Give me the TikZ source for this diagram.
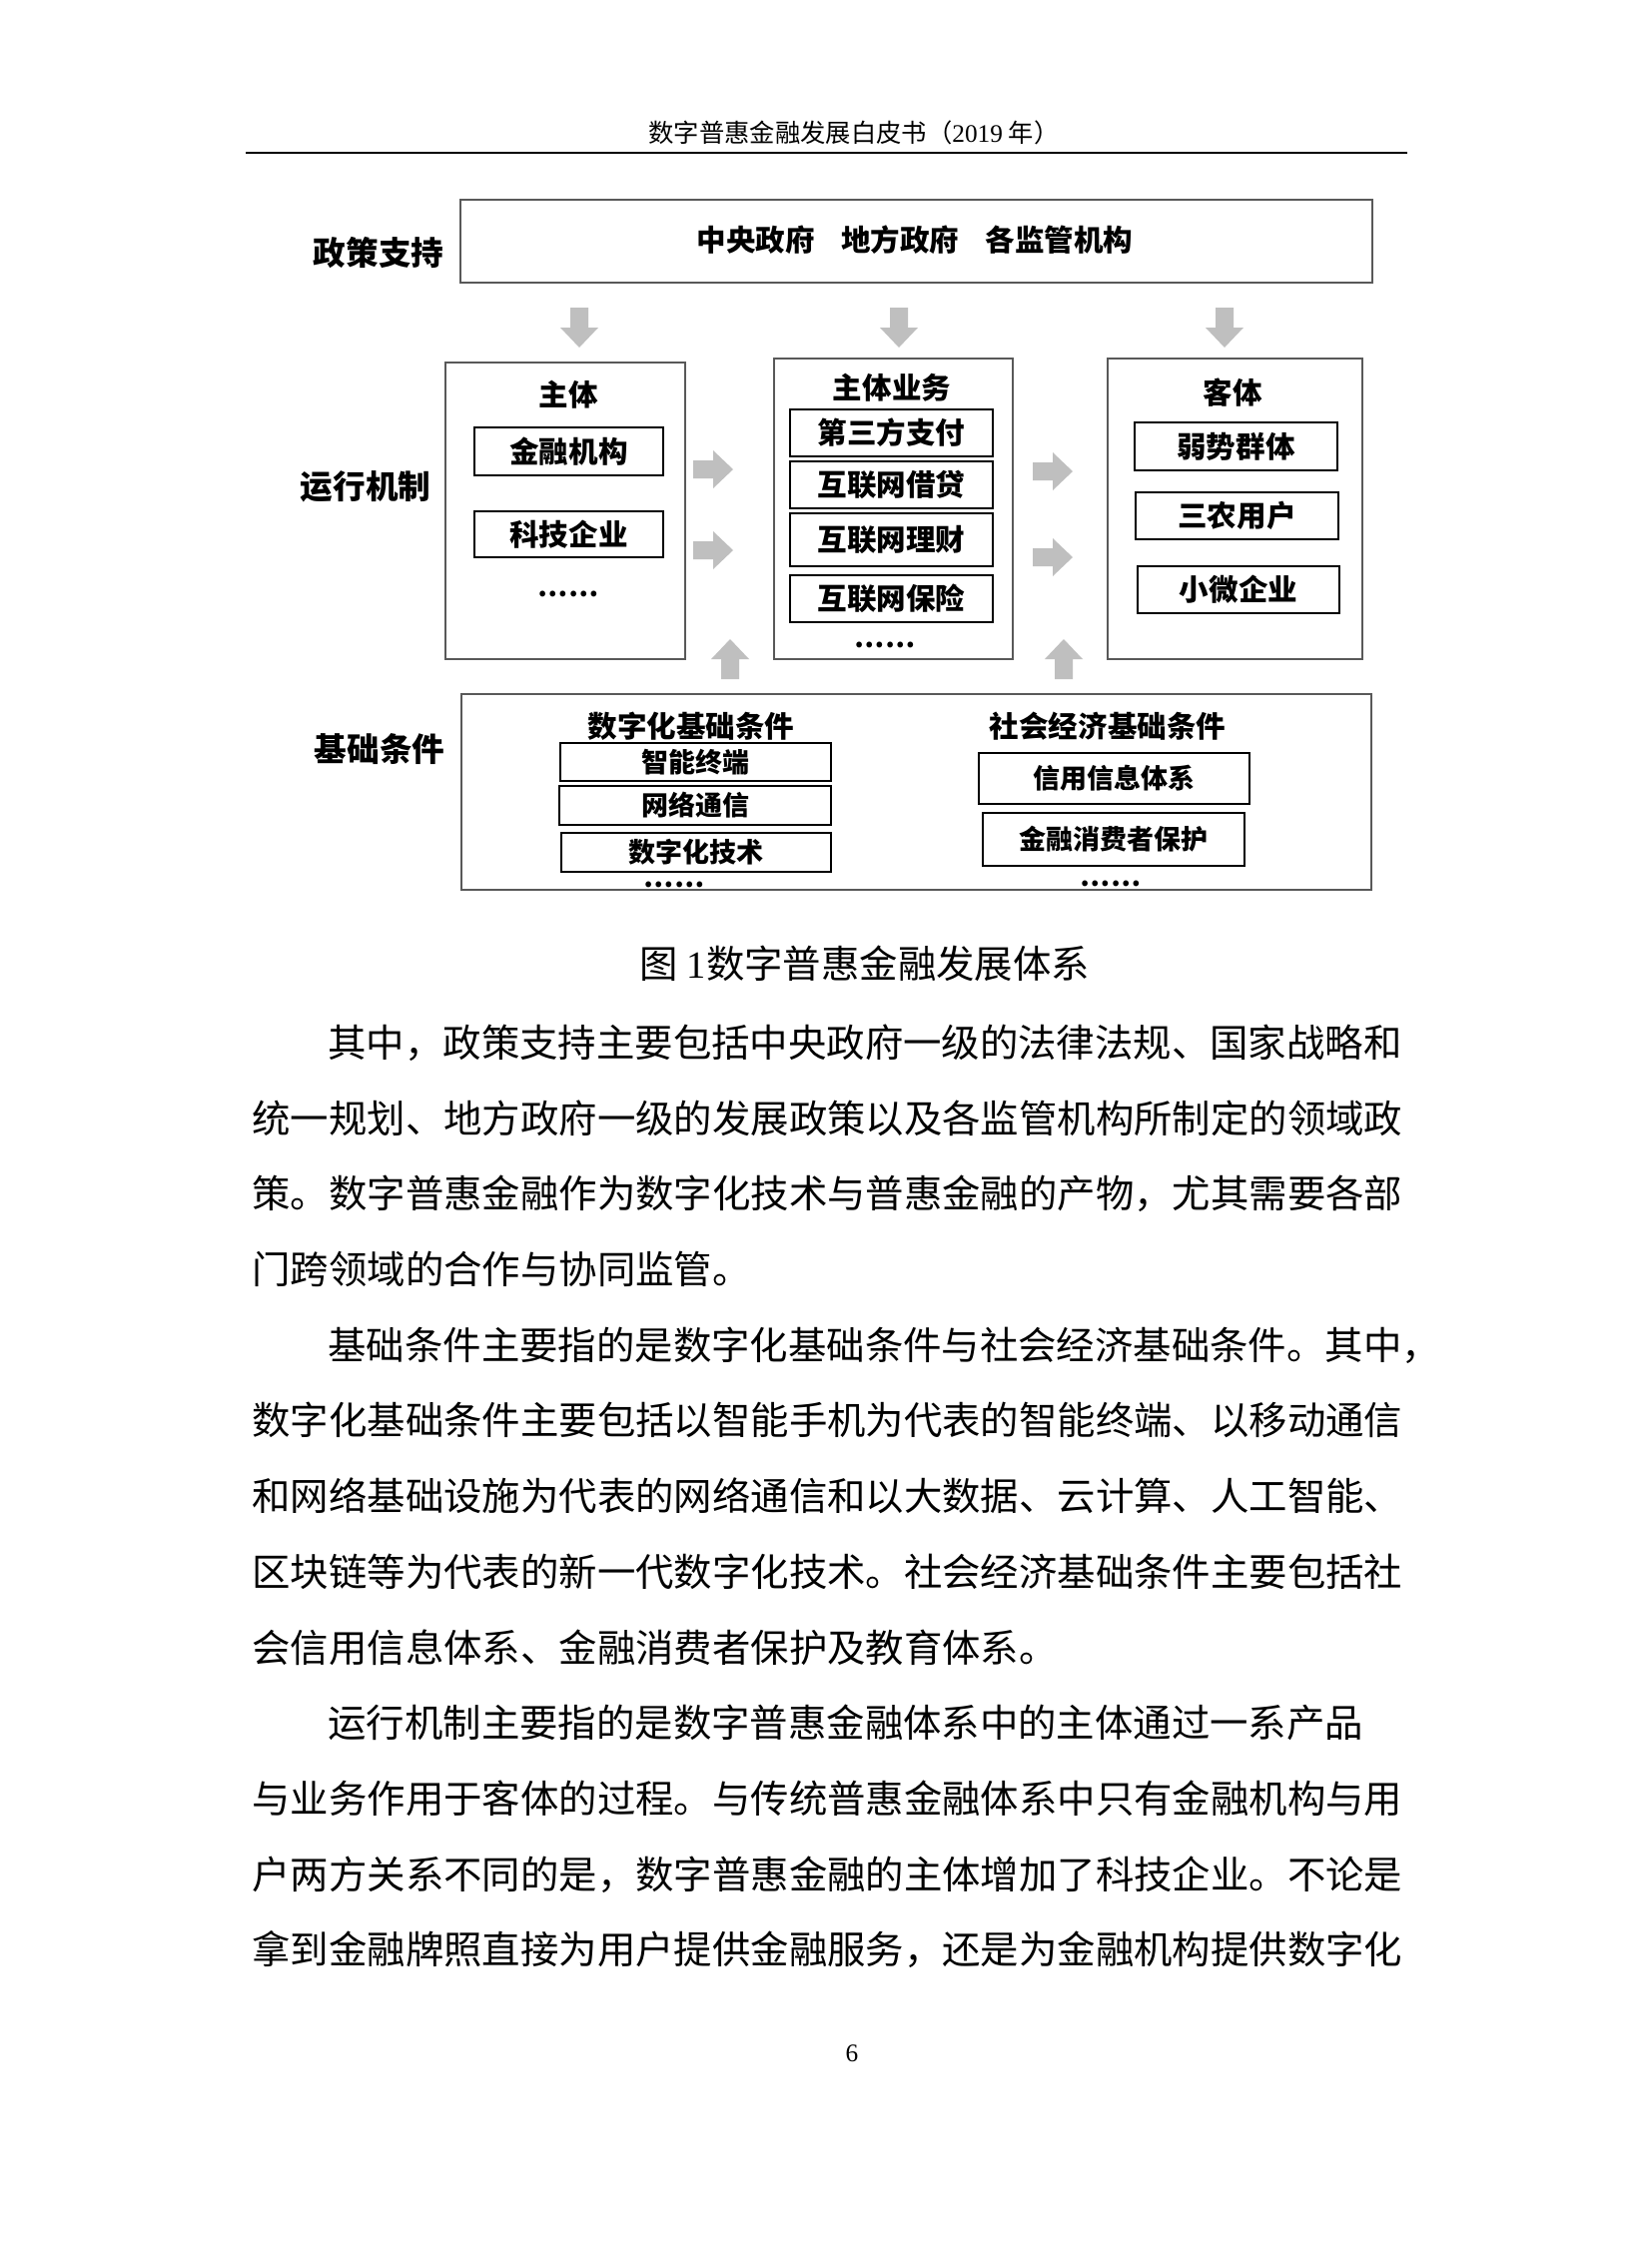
\documentclass[tikz,border=0pt]{standalone}
\usepackage{fontspec}
\setmainfont{Liberation Serif}
\newfontfamily\cjk{Noto Sans CJK SC}
\usepackage{tikz}
\usetikzlibrary{calc}
\definecolor{ArrowGray}{HTML}{BFBFBF}
\definecolor{PanelLine}{gray}{0.35}
\newcommand{\blockarrow}[2]{%
  \fill[ArrowGray,shift={#1},rotate=#2] (0,0) -- (-19,-20) -- (-9,-20) -- (-9,-40)
    -- (9,-40) -- (9,-20) -- (19,-20) -- cycle;}
\tikzset{
  page/.style={x=0.0125cm,y=-0.0125cm},
  boxsize/.style 2 args={minimum width=#1*0.0125cm,minimum height=#2*0.0125cm},
  rowlabel/.style={font=\cjk\bfseries\fontsize{11.6pt}{14pt}\selectfont,inner sep=0},
  headlabel/.style={font=\cjk\bfseries\fontsize{10.5pt}{13pt}\selectfont,inner sep=0},
  moredots/.style={font=\cjk\bfseries\fontsize{9.5pt}{11pt}\selectfont,inner sep=0},
  panelbox/.style={draw=PanelLine,line width=0.6pt,inner sep=0},
  itembox/.style={draw=black,line width=0.8pt,inner sep=0,font=\cjk\bfseries\fontsize{10.5pt}{13pt}\selectfont},
  smallbox/.style={itembox,font=\cjk\bfseries\fontsize{9.6pt}{12pt}\selectfont},
  bodyline/.style={anchor=west,inner sep=0,font=\cjk\fontsize{13.65pt}{16pt}\selectfont},
}
\begin{document}
\begin{tikzpicture}[page]
  \path[fill=white] (0,0) rectangle (1654,2244);

  \node[font=\cjk\fontsize{9pt}{11pt}\selectfont] (header) at (855,133)
    {数字普惠金融发展白皮书（{\rmfamily 2019} 年）};
  \draw[line width=0.9pt] (246,153) -- (1409,153);

  % policy row
  \node[rowlabel] (zcLabel) at (379,253) {政策支持};
  \node[panelbox,boxsize={913}{83}] (policy) at (917.5,241.5) {};
  \node[headlabel] (policyText) at (916,240) {中央政府\hspace{0.9em}地方政府\hspace{0.9em}各监管机构};
  \blockarrow{(580,348)}{0}
  \blockarrow{(900,348)}{0}
  \blockarrow{(1226,348)}{0}

  % mechanism row
  \node[rowlabel] (yxLabel) at (366,487) {运行机制};
  \node[panelbox,boxsize={240}{297}] (subject) at (566,511.5) {};
  \node[panelbox,boxsize={239}{301}] (business) at (894.5,509.5) {};
  \node[panelbox,boxsize={255}{301}] (object) at (1236.5,509.5) {};
  \node[headlabel] (subjectTitle) at (569,395) {主体};
  \node[headlabel] (businessTitle) at (893,388) {主体业务};
  \node[headlabel] (objectTitle) at (1234,393) {客体};

  \node[itembox,boxsize={189}{48}] (finInst) at (569.5,452) {金融机构};
  \node[itembox,boxsize={189}{46}] (techFirm) at (569.5,535) {科技企业};
  \node[moredots] (subjectMore) at (569,595) {……};

  \node[itembox,boxsize={203}{47}] (payment) at (892.5,433.5) {第三方支付};
  \node[itembox,boxsize={203}{47}] (lending) at (892.5,485.5) {互联网借贷};
  \node[itembox,boxsize={203}{53}] (wealth) at (892.5,540.5) {互联网理财};
  \node[itembox,boxsize={203}{47}] (insurance) at (892.5,599.5) {互联网保险};
  \node[moredots] (businessMore) at (886,646) {……};

  \node[itembox,boxsize={203}{48}] (weakGroup) at (1237.5,447) {弱势群体};
  \node[itembox,boxsize={203}{47}] (ruralUser) at (1238.5,516.5) {三农用户};
  \node[itembox,boxsize={202}{47}] (smallFirm) at (1240,590.5) {小微企业};

  \blockarrow{(734,470)}{90}
  \blockarrow{(734,551)}{90}
  \blockarrow{(1074,472)}{90}
  \blockarrow{(1074,558)}{90}
  \blockarrow{(731,640)}{180}
  \blockarrow{(1065,640)}{180}

  % foundation row
  \node[rowlabel] (jcLabel) at (380,750) {基础条件};
  \node[panelbox,boxsize={911}{196}] (foundation) at (917.5,793) {};
  \node[headlabel] (digitalTitle) at (692,727) {数字化基础条件};
  \node[headlabel] (socialTitle) at (1109,727) {社会经济基础条件};
  \node[smallbox,boxsize={271}{38}] (terminal) at (696.5,763) {智能终端};
  \node[smallbox,boxsize={272}{39}] (network) at (696,806.5) {网络通信};
  \node[smallbox,boxsize={270}{39}] (digitalTech) at (697,853.5) {数字化技术};
  \node[moredots,anchor=south] (digitalMore) at (675,889) {……};
  \node[smallbox,boxsize={271}{51}] (credit) at (1115.5,779.5) {信用信息体系};
  \node[smallbox,boxsize={262}{53}] (consumer) at (1115,840.5) {金融消费者保护};
  \node[moredots] (socialMore) at (1112,885) {……};

  \node[font=\cjk\fontsize{13.65pt}{16pt}\selectfont] (caption) at (866,965)
    {图 {\rmfamily 1}数字普惠金融发展体系};

  % body text
  \node[bodyline] (line1) at (328,1044) {其中，政策支持主要包括中央政府一级的法律法规、国家战略和};
  \node[bodyline] (line2) at (252,1120) {统一规划、地方政府一级的发展政策以及各监管机构所制定的领域政};
  \node[bodyline] (line3) at (252,1195) {策。数字普惠金融作为数字化技术与普惠金融的产物，尤其需要各部};
  \node[bodyline] (line4) at (252,1271) {门跨领域的合作与协同监管。};
  \node[bodyline] (line5) at (328,1347) {基础条件主要指的是数字化基础条件与社会经济基础条件。其中，};
  \node[bodyline] (line6) at (252,1422) {数字化基础条件主要包括以智能手机为代表的智能终端、以移动通信};
  \node[bodyline] (line7) at (252,1498) {和网络基础设施为代表的网络通信和以大数据、云计算、人工智能、};
  \node[bodyline] (line8) at (252,1574) {区块链等为代表的新一代数字化技术。社会经济基础条件主要包括社};
  \node[bodyline] (line9) at (252,1650) {会信用信息体系、金融消费者保护及教育体系。};
  \node[bodyline] (line10) at (328,1725) {运行机制主要指的是数字普惠金融体系中的主体通过一系产品};
  \node[bodyline] (line11) at (252,1801) {与业务作用于客体的过程。与传统普惠金融体系中只有金融机构与用};
  \node[bodyline] (line12) at (252,1877) {户两方关系不同的是，数字普惠金融的主体增加了科技企业。不论是};
  \node[bodyline] (line13) at (252,1952) {拿到金融牌照直接为用户提供金融服务，还是为金融机构提供数字化};

  \node[font=\fontsize{9pt}{11pt}\selectfont] (pageno) at (853,2056) {6};
\end{tikzpicture}
\end{document}
